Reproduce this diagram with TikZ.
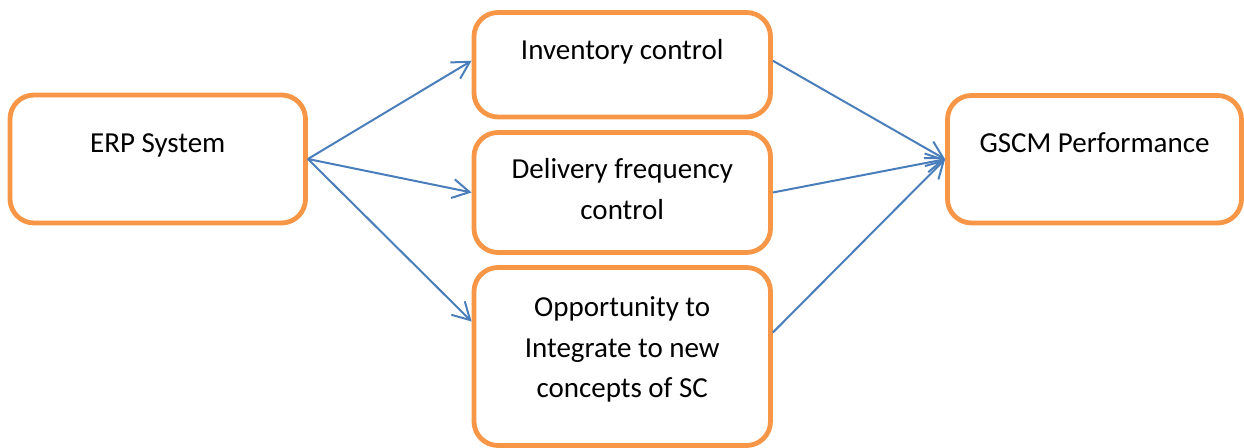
\documentclass[tikz,border=0pt]{standalone}
\usepackage{fontspec}
\setmainfont{Carlito}
\usetikzlibrary{arrows.meta}
\definecolor{boxorange}{HTML}{F79646}
\definecolor{linkblue}{HTML}{4A7EBB}
\tikzset{
	factor/.style={draw=boxorange, line width=2.4pt, rounded corners=12pt, fill=white,
		inner sep=0pt, align=flush center, font=\fontsize{14.5}{20.3}\selectfont},
	link/.style={draw=linkblue, line width=1pt, ->}
}
\begin{document}
\begin{tikzpicture}[x=0.5pt, y=-0.5pt, >={Straight Barb[length=8.5pt, width=9.5pt]}]
		\useasboundingbox (0, 0) rectangle (1244, 448);
		\node[factor, text width=147.75pt, text height=29pt, text depth=35pt] (erp) at (157.75, 159) {ERP System};
		\node[factor, text width=148.25pt, text height=23.4pt, text depth=28.85pt] (inv) at (622.25, 64.75) {Inventory control};
		\node[factor, text width=148.25pt, text height=23.25pt, text depth=36.75pt] (del) at (622.25, 192.5) {Delivery frequency\\control};
		\node[factor, text width=148.25pt, text height=24.6pt, text depth=64.4pt] (opp) at (622.25, 356.5) {Opportunity to\\Integrate to new\\concepts of SC};
		\node[factor, text width=147pt, text height=28.6pt, text depth=35.15pt] (gscm) at (1094.5, 159.25) {GSCM Performance};
		\draw[link] (erp.east) -- ([yshift=2pt]inv.west);
		\draw[link] (erp.east) -- (del.west);
		\draw[link] (erp.east) -- ([yshift=17.5pt]opp.west);
		\draw[link] ([yshift=2pt]inv.east) -- (gscm.west);
		\draw[link] (del.east) -- (gscm.west);
		\draw[link] ([yshift=12pt]opp.east) -- (gscm.west);
	\end{tikzpicture}
\end{document}
